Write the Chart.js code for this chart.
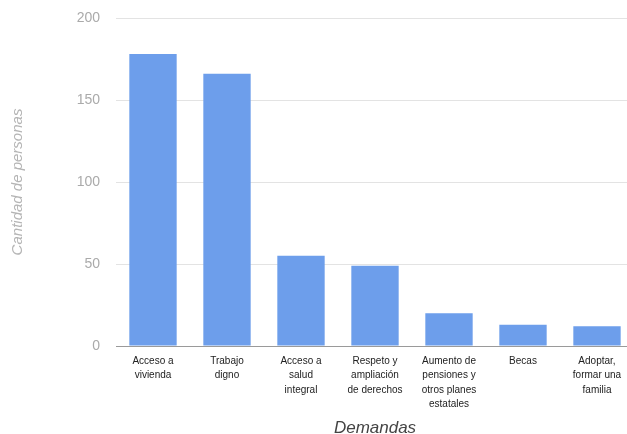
<!DOCTYPE html>
<html>
<head>
<meta charset="utf-8">
<script src="https://cdn.jsdelivr.net/npm/chart.js@4"></script>
<style>
  html, body { margin: 0; padding: 0; background: #fff; overflow: hidden; }
  canvas { display: block; }
</style>
</head>
<body>
<canvas id="chart" width="634" height="434"></canvas>
<script>
// Demands reported, number of people per category
const categories = [
  ['Acceso a', 'vivienda'],
  ['Trabajo', 'digno'],
  ['Acceso a', 'salud', 'integral'],
  ['Respeto y', 'ampliación', 'de derechos'],
  ['Aumento de', 'pensiones y', 'otros planes', 'estatales'],
  ['Becas'],
  ['Adoptar,', 'formar una', 'familia']
];
const personas = [178, 166, 55, 49, 20, 13, 12];
const yTicks = [0, 50, 100, 150, 200];

const FONT = "'Liberation Sans', Arial, sans-serif";

new Chart(document.getElementById('chart'), {
  type: 'bar',
  data: {
    labels: categories,
    datasets: [{
      data: personas,
      backgroundColor: '#6d9eeb',
      borderWidth: 0,
      categoryPercentage: 1,
      barPercentage: 0.64
    }]
  },
  options: {
    responsive: false,
    animation: false,
    layout: { padding: { top: 18, right: 0, bottom: 0, left: 0 } },
    plugins: { legend: { display: false }, tooltip: { enabled: false } },
    scales: {
      x: {
        grid: { display: false },
        border: { display: true, color: '#9a9a9a', width: 1 },
        ticks: {
          color: '#222',
          font: { family: FONT, size: 10, lineHeight: 1.43 },
          padding: 0,
          maxRotation: 0,
          autoSkip: false
        },
        title: {
          display: true,
          text: 'Demandas',
          color: '#444',
          font: { family: FONT, size: 17, style: 'italic', lineHeight: 0.7 },
          padding: 0
        },
        afterFit(scale) {
          scale.height = 88;
          scale.paddingTop = 0;
          scale.paddingBottom = 0;
        }
      },
      y: {
        min: 0,
        max: 200,
        afterBuildTicks(scale) { scale.ticks = yTicks.map(v => ({ value: v })); },
        grid: {
          drawTicks: false,
          color: ctx => (ctx.tick && ctx.tick.value === 0) ? '#9a9a9a' : '#e3e3e3'
        },
        border: { display: false },
        ticks: {
          color: '#aaaaaa',
          font: { family: FONT, size: 14 },
          padding: 16
        },
        title: {
          display: true,
          text: 'Cantidad de personas',
          color: '#b5b5b5',
          font: { family: FONT, size: 15, style: 'italic', lineHeight: 1.2 },
          padding: { top: 9, bottom: 0 }
        },
        afterFit(scale) {
          scale.width = 116;
          scale.paddingTop = 0;
          scale.paddingBottom = 0;
        }
      }
    }
  }
});
</script>
</body>
</html>
